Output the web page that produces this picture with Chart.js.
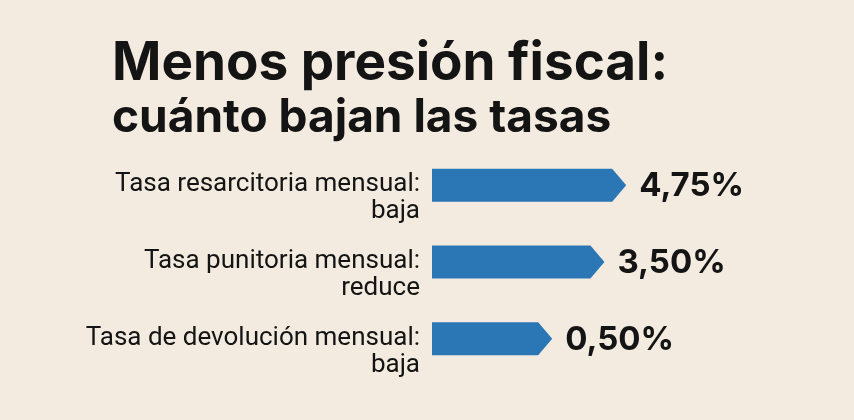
<!DOCTYPE html>
<html>
<head>
<meta charset="utf-8">
<script src="https://cdn.jsdelivr.net/npm/chart.js@4.4.1/dist/chart.umd.min.js"></script>
<style>
    html, body { margin: 0; padding: 0; background: #f3ebe0; }
    #wrap { width: 854px; height: 420px; }
</style>
</head>
<body>
<div id="wrap"><canvas id="tasasChart"></canvas></div>
<script>
// datos
const categorias = ['Tasa resarcitoria mensual:', 'Tasa punitoria mensual:', 'Tasa de devolución mensual:'];
const notas = ['baja', 'reduce', 'baja'];
const tasas = [4.75, 3.50, 0.50];

const AZUL = '#2b77b5';
const TINTA = '#141414';

// barras con punta de flecha, dibujadas sobre los elementos del propio chart
const flechas = {
    id: 'flechas',
    afterLayout(chart) {
        // que las etiquetas largas no se recorten a la izquierda del eje
        chart.scales.y.left = 0;
    },
    afterDatasetsDraw(chart) {
        const ctx = chart.ctx;
        const meta = chart.getDatasetMeta(0);
        const xs = chart.scales.x;
        const inicio = xs.getPixelForValue(xs.min);
        ctx.save();
        meta.data.forEach((bar, i) => {
            const top = bar.y - bar.height / 2;
            const bottom = bar.y + bar.height / 2;
            const punta = 14;
            ctx.beginPath();
            ctx.moveTo(inicio, top);
            ctx.lineTo(bar.x - punta, top);
            ctx.lineTo(bar.x, bar.y);
            ctx.lineTo(bar.x - punta, bottom);
            ctx.lineTo(inicio, bottom);
            ctx.closePath();
            ctx.fillStyle = AZUL;
            ctx.fill();

            // valor
            ctx.fillStyle = TINTA;
            ctx.font = 'bold 33px Inter';
            ctx.textAlign = 'left';
            ctx.textBaseline = 'middle';
            const txt = tasas[i].toFixed(2).replace('.', ',') + '%';
            ctx.fillText(txt, bar.x + 13, bar.y + 1);
        });
        ctx.restore();
    }
};

const ctx = document.getElementById('tasasChart').getContext('2d');
new Chart(ctx, {
    type: 'bar',
    data: {
        labels: categorias.map((c, i) => [c, notas[i]]),
        datasets: [{
            data: tasas,
            backgroundColor: 'rgba(0,0,0,0)',
            barThickness: 33
        }]
    },
    plugins: [flechas],
    options: {
        indexAxis: 'y',
        responsive: true,
        maintainAspectRatio: false,
        animation: false,
        layout: { padding: { left: 112, right: 58, top: 0, bottom: 43 } },
        scales: {
            x: {
                display: false,
                min: -6.4,
                max: 14.5
            },
            y: {
                grid: { display: false, drawTicks: false },
                border: { display: false },
                afterFit(scale) { scale.width = 320; },
                ticks: {
                    color: TINTA,
                    padding: 12,
                    labelOffset: 13,
                    font: { family: 'Roboto', size: 26, lineHeight: 1.04 }
                }
            }
        },
        plugins: {
            legend: { display: false },
            tooltip: { enabled: false },
            title: {
                display: true,
                text: 'Menos presión fiscal:',
                align: 'start',
                color: TINTA,
                font: { family: 'Inter', size: 53, weight: 'bold', lineHeight: 1 },
                padding: { top: 38, bottom: 1 }
            },
            subtitle: {
                display: true,
                text: 'cuánto bajan las tasas',
                align: 'start',
                color: TINTA,
                font: { family: 'Inter', size: 46, weight: 'bold', lineHeight: 1 },
                padding: { top: 3, bottom: 6 }
            }
        }
    }
});
</script>
</body>
</html>
